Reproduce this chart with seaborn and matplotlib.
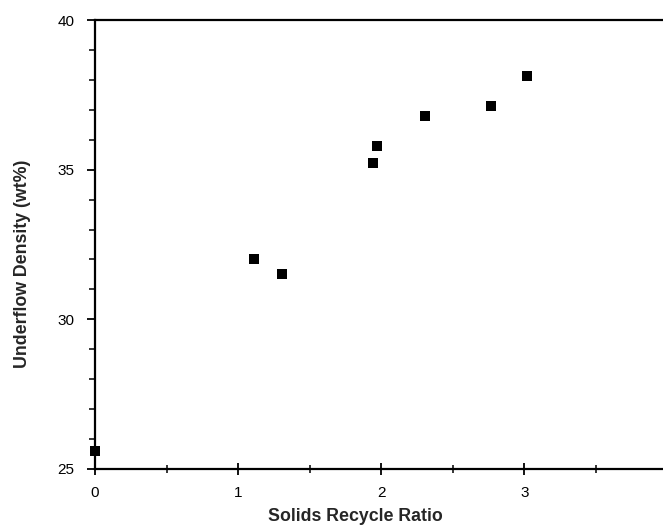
import matplotlib
matplotlib.use("Agg")
import matplotlib.pyplot as plt
import seaborn as sns
import pandas as pd
from matplotlib.ticker import MultipleLocator

recycle_ratio = [0.0, 1.11, 1.31, 1.94, 1.97, 2.31, 2.77, 3.02]
underflow_density = [25.6, 32.02, 31.51, 35.22, 35.79, 36.79, 37.13, 38.12]

df = pd.DataFrame({"x": recycle_ratio, "y": underflow_density})

sns.set_style("white")
plt.rcParams['font.family'] = ['Liberation Sans', 'DejaVu Sans']

fig = plt.figure(figsize=(6.63, 5.26), dpi=100)
ax = fig.add_axes([95/663, 57/526, 568/663, 449/526])

sns.scatterplot(data=df, x="x", y="y", marker="s", color="black", s=48,
                edgecolor="black", linewidth=0, ax=ax, clip_on=False, zorder=5)

ax.set_xlim(0, 3.97)
ax.set_ylim(25, 40)
ax.xaxis.set_major_locator(MultipleLocator(1))
ax.xaxis.set_minor_locator(MultipleLocator(0.5))
ax.yaxis.set_major_locator(MultipleLocator(5))
ax.yaxis.set_minor_locator(MultipleLocator(1))

for side in ["left", "bottom", "top"]:
    ax.spines[side].set_visible(True)
    ax.spines[side].set_linewidth(1.6)
    ax.spines[side].set_color("black")
ax.spines["right"].set_visible(False)

ax.tick_params(axis="both", which="major", direction="out", length=6, width=1.3,
               labelsize=11, colors="black")
ax.tick_params(axis="y", which="major", pad=9)
ax.tick_params(axis="y", which="minor", direction="out", length=4, width=1.3, left=True)
ax.tick_params(axis="x", which="minor", direction="inout", length=6, width=1.3, bottom=True)
ax.tick_params(axis="x", which="major", direction="inout", length=8, pad=8)
ax.tick_params(top=False, right=False, left=True, bottom=True)

ax.set_xlabel("Solids Recycle Ratio", fontsize=12.8, fontweight="bold")
ax.set_ylabel("Underflow Density (wt%)", fontsize=12.8, fontweight="bold")
ax.xaxis.set_label_coords(0.458, -0.086)
ax.yaxis.set_label_coords(-0.112, 0.457)

fig.savefig("out.png", dpi=100)
